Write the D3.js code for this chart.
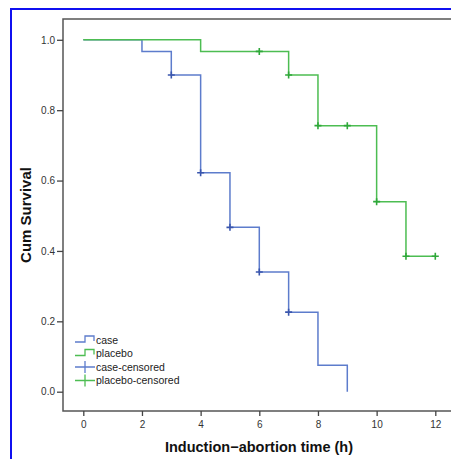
<!DOCTYPE html>
<html>
<head>
<meta charset="utf-8">
<script src="https://cdn.jsdelivr.net/npm/d3@7"></script>
<style>
  body { margin: 0; background: #fff; }
  svg { display: block; font-family: "Liberation Sans", Arial, sans-serif; }
</style>
</head>
<body>
<div id="chart"></div>
<script>
// Kaplan-Meier estimates
const caseTimes = [0, 2, 3, 4, 5, 6, 7, 8, 9];
const caseSurv = [1, 0.967, 0.9, 0.622, 0.467, 0.34, 0.226, 0.075, 0];
const caseCensorTimes = [3, 4, 5, 6, 7];
const caseCensorSurv = [0.9, 0.622, 0.467, 0.34, 0.226];

const placeboTimes = [0, 4, 7, 8, 10, 11, 12];
const placeboSurv = [1, 0.967, 0.9, 0.756, 0.54, 0.385, 0.385];
const placeboCensorTimes = [6, 7, 8, 9, 10, 11, 12];
const placeboCensorSurv = [0.967, 0.9, 0.756, 0.756, 0.54, 0.385, 0.385];

const xTicks = [0, 2, 4, 6, 8, 10, 12];
const yTicks = [0, 0.2, 0.4, 0.6, 0.8, 1.0];
const legendLabels = ["case", "placebo", "case-censored", "placebo-censored"];

const width = 451, height = 459;
const caseColor = "#5d7ccc", placeboColor = "#4dbd52";
const caseDark = "#3a56ad", placeboDark = "#2fa83a";

const svg = d3.select("#chart")
  .append("svg")
  .attr("width", width)
  .attr("height", height);

// outer blue frame (runs past the right and bottom edges)
svg.append("rect")
  .attr("x", 11).attr("y", 9)
  .attr("width", 460).attr("height", 470)
  .attr("fill", "none")
  .attr("stroke", "#1010f0")
  .attr("stroke-width", 2);

const plotLeft = 63, plotTop = 19, plotBottom = 411;

const x = d3.scaleLinear().domain([0, 12]).range([83.3, 435.3]);
const y = d3.scaleLinear().domain([0, 1]).range([391.7, 39.8]);

// plot frame
svg.append("path")
  .attr("d", `M${width},${plotTop}H${plotLeft}V${plotBottom}H${width}`)
  .attr("fill", "none")
  .attr("stroke", "#555")
  .attr("stroke-width", 1.5);

const xAxis = svg.append("g")
  .attr("transform", `translate(0,${plotBottom})`)
  .call(d3.axisBottom(x).tickValues(xTicks).tickSize(5).tickPadding(5));
xAxis.select(".domain").remove();

const yAxis = svg.append("g")
  .attr("transform", `translate(${plotLeft},0)`)
  .call(d3.axisLeft(y).tickValues(yTicks).tickSize(6).tickPadding(2).tickFormat(d3.format(".1f")));
yAxis.select(".domain").remove();

svg.selectAll(".tick line").attr("stroke", "#444").attr("stroke-width", 1.3);
svg.selectAll(".tick text")
  .attr("fill", "#333")
  .style("font-size", "10px")
  .style("font-family", "'Liberation Sans', Arial, sans-serif");

const line = d3.line()
  .x(d => x(d[0]))
  .y(d => y(d[1]))
  .curve(d3.curveStepAfter);

const series = [
  {times: caseTimes, surv: caseSurv, ct: caseCensorTimes, cs: caseCensorSurv, color: caseColor, dark: caseDark},
  {times: placeboTimes, surv: placeboSurv, ct: placeboCensorTimes, cs: placeboCensorSurv, color: placeboColor, dark: placeboDark}
];

for (let s of series) {
  svg.append("path")
    .datum(d3.zip(s.times, s.surv))
    .attr("fill", "none")
    .attr("stroke", s.color)
    .attr("stroke-width", 1.5)
    .attr("d", line);

  svg.append("g")
    .selectAll("path")
    .data(d3.zip(s.ct, s.cs))
    .join("path")
    .attr("d", d => `M${x(d[0]) - 3.5},${y(d[1])}h7M${x(d[0])},${y(d[1]) - 3.5}v7`)
    .attr("stroke", s.dark)
    .attr("stroke-width", 1.6);
}

// legend
const legend = svg.append("g").attr("transform", "translate(75,340)");
legendLabels.forEach((label, i) => {
  const g = legend.append("g").attr("transform", `translate(0,${i * 13.5})`);
  const col = i % 2 === 0 ? caseColor : placeboColor;
  if (i < 2) {
    g.append("path")
      .attr("d", "M0,2H10V-4H19V1")
      .attr("fill", "none")
      .attr("stroke", col)
      .attr("stroke-width", 1.3);
  } else {
    g.append("path")
      .attr("d", "M0,0H20M10,-6V6")
      .attr("fill", "none")
      .attr("stroke", col)
      .attr("stroke-width", 1.3);
  }
  g.append("text")
    .attr("x", 21)
    .attr("y", 3.5)
    .attr("fill", "#222")
    .style("font-size", "10.5px")
    .text(label);
});

svg.append("text")
  .attr("x", 259)
  .attr("y", 452)
  .attr("text-anchor", "middle")
  .attr("fill", "#111")
  .style("font-size", "14.5px")
  .style("font-weight", "bold")
  .text("Induction\u2212abortion time (h)");

svg.append("text")
  .attr("transform", "translate(31,215) rotate(-90)")
  .attr("text-anchor", "middle")
  .attr("fill", "#111")
  .style("font-size", "15px")
  .style("font-weight", "bold")
  .text("Cum Survival");
</script>
</body>
</html>
